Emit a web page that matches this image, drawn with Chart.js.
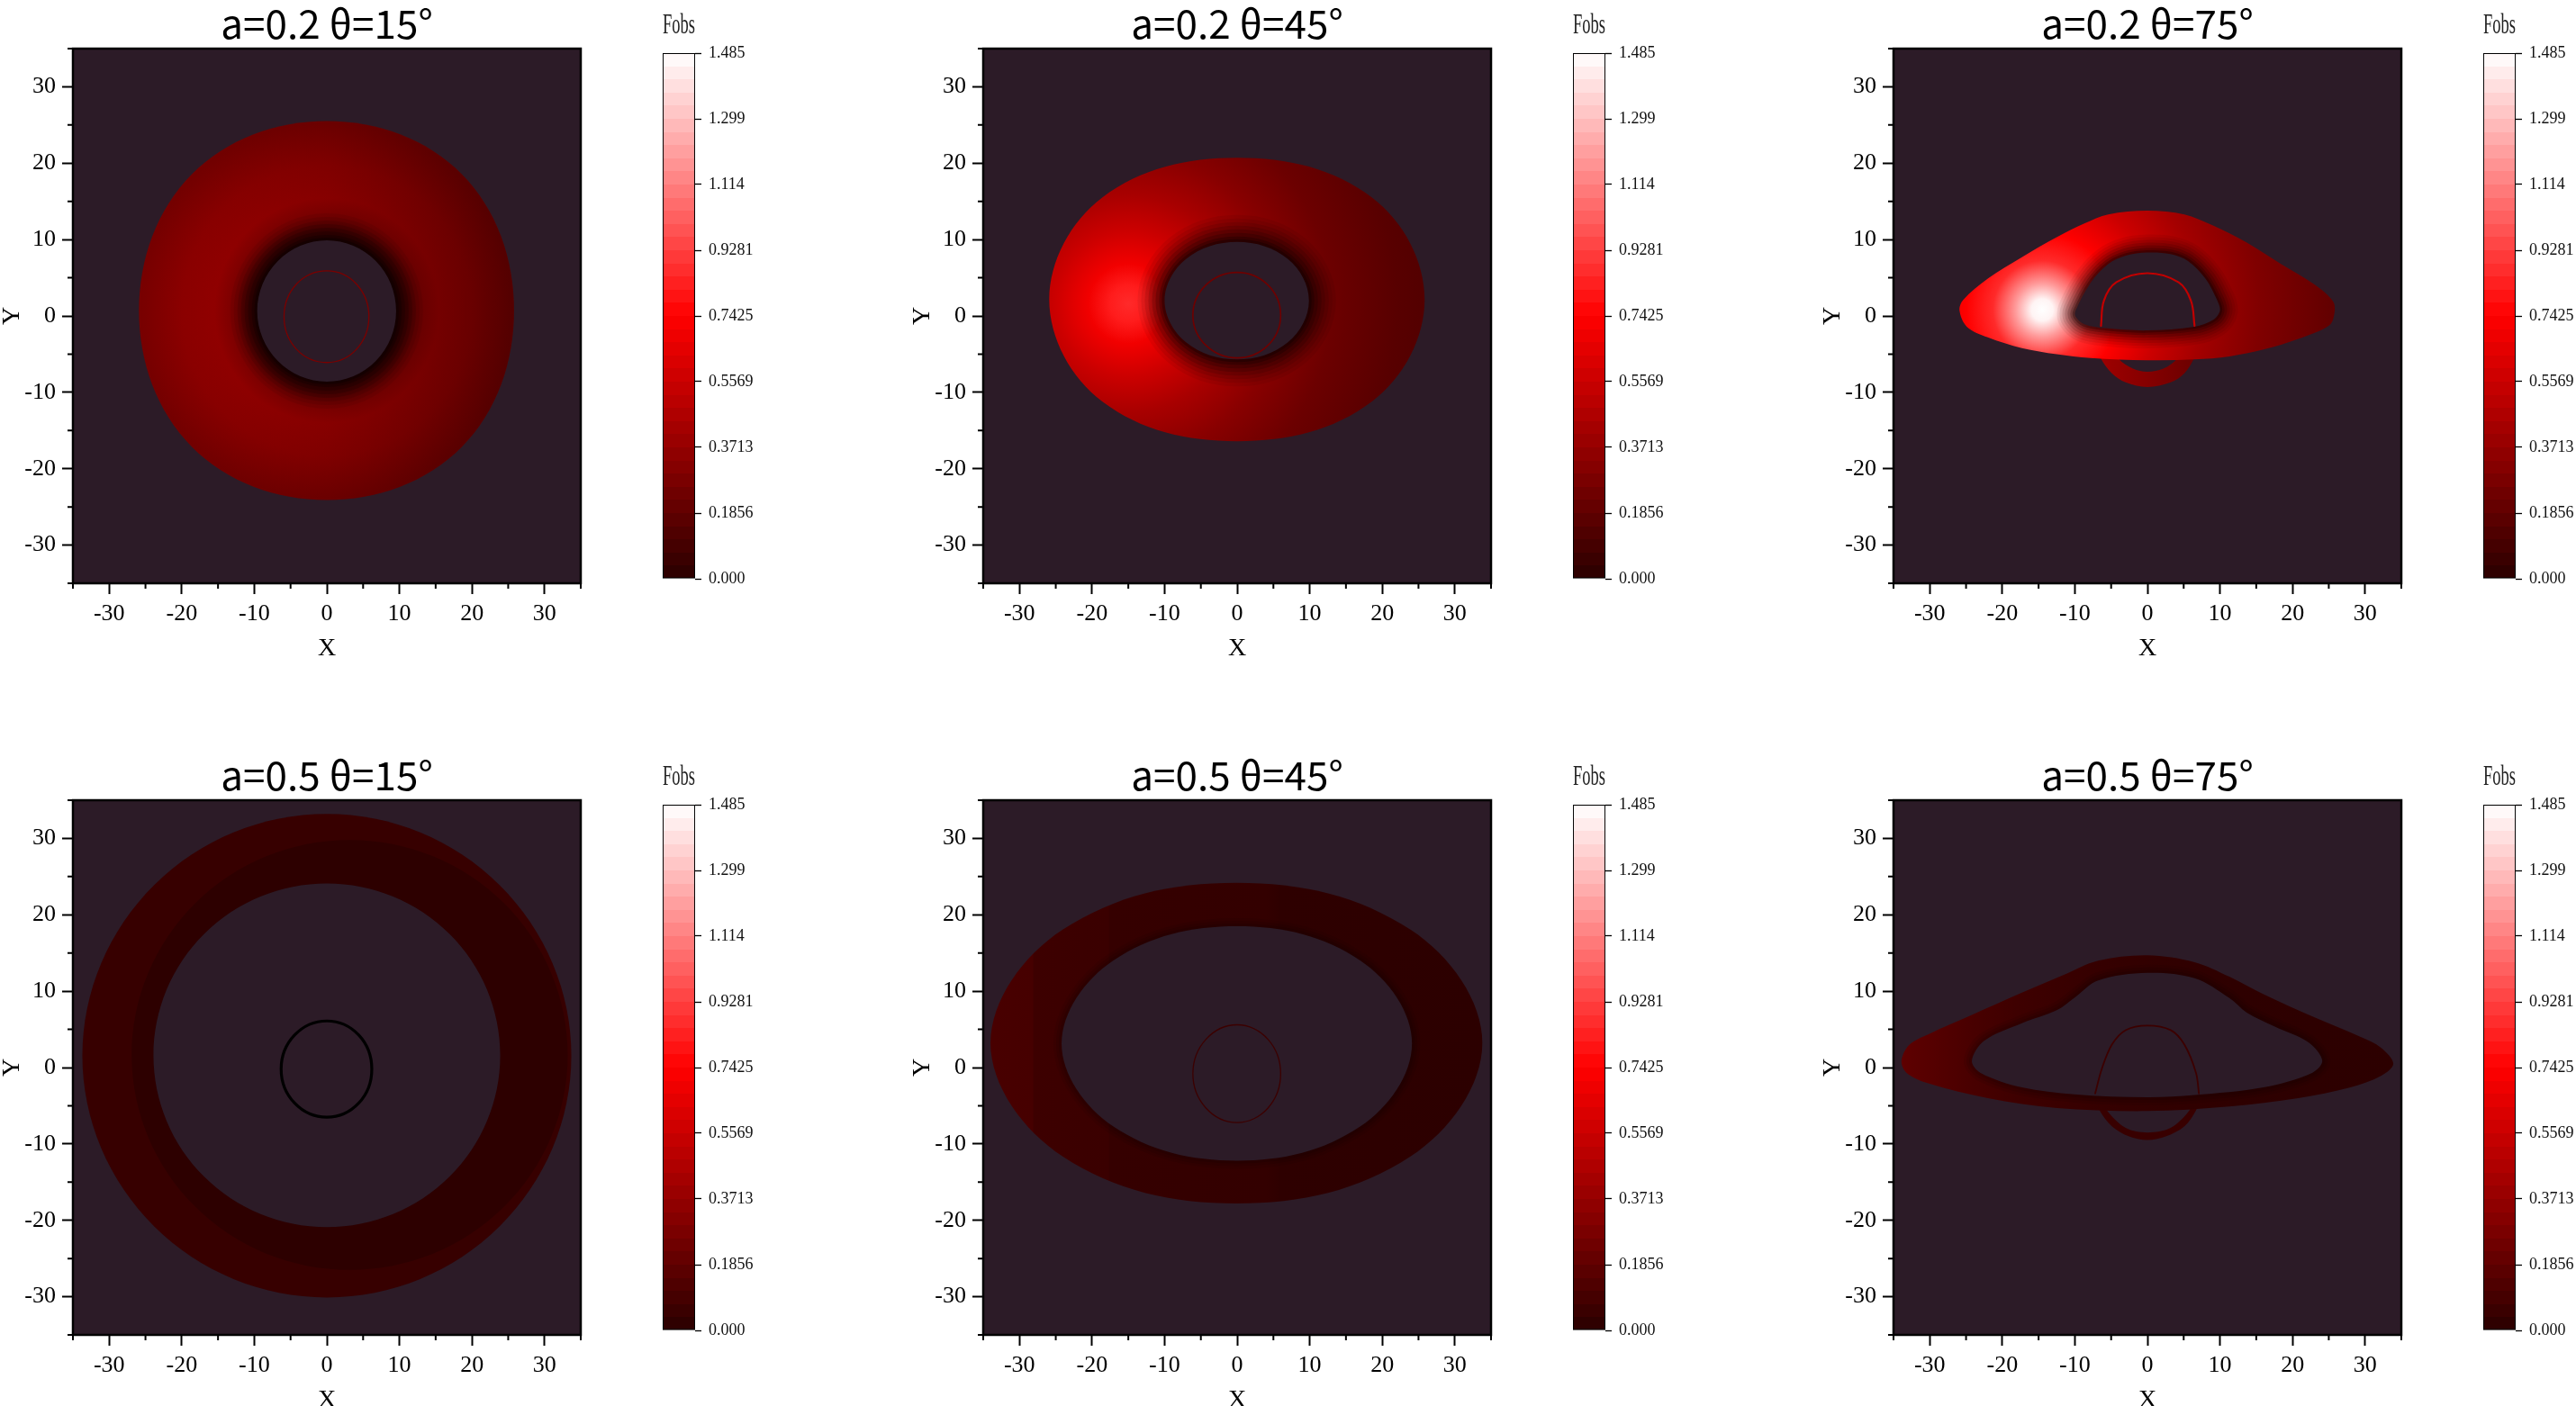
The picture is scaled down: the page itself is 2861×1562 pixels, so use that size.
<!DOCTYPE html>
<html>
<head>
<meta charset="utf-8">
<script src="https://cdn.jsdelivr.net/npm/chart.js@4.4.1/dist/chart.umd.min.js"></script>
<style>
  html, body { margin: 0; padding: 0; background: #fff; overflow: hidden; width: 2861px; height: 1562px; }
  canvas { position: absolute; }
</style>
</head>
<body>
<script>
// ---- data ----
const panelTitles = ['a=0.2 θ=15°', 'a=0.2 θ=45°', 'a=0.2 θ=75°', 'a=0.5 θ=15°', 'a=0.5 θ=45°', 'a=0.5 θ=75°'];
const xTicks = [-30, -20, -10, 0, 10, 20, 30];
const xTickLabels = ['-30', '-20', '-10', '0', '10', '20', '30'];
const yTicks = [-30, -20, -10, 0, 10, 20, 30];
const yTickLabels = ['-30', '-20', '-10', '0', '10', '20', '30'];
const minorTicks = [-35, -25, -15, -5, 5, 15, 25, 35];
const fobsRange = [0, 1.485];
const cbTicks = [0, 0.1856, 0.3713, 0.5569, 0.7425, 0.9281, 1.114, 1.299, 1.485];
const cbTickLabels = ['0.000', '0.1856', '0.3713', '0.5569', '0.7425', '0.9281', '1.114', '1.299', '1.485'];

// contours (X, Y) of each image
const p1Outer = [[25.8, 0.7], [18.6, 18.55], [0, 25.5], [-18.6, 18.55], [-25.9, 0.7], [-18.6, -17.15], [0, -24.1], [18.6, -17.15]];
const p1Hole = [[9.55, 0.65], [6.75, 7.2], [0, 9.9], [-6.75, 7.2], [-9.6, 0.65], [-6.75, -5.9], [0, -8.6], [6.75, -5.9]];
const p1Ring = [[5.8, -0.1], [4.1, 4.15], [0, 5.9], [-4.2, 4.15], [-5.9, -0.1], [-4.2, -4.35], [0, -6.1], [4.1, -4.35]];

const p2Outer = [[25.85, 2.15], [18.6, 15.5], [0, 20.7], [-18.6, 15.5], [-25.9, 2.15], [-18.6, -11.2], [0, -16.4], [18.6, -11.2]];
const p2Hole = [[9.9, 2.0], [7.0, 7.45], [0, 9.7], [-7.05, 7.45], [-10.0, 2.0], [-7.05, -3.45], [0, -5.7], [7.0, -3.45]];
const p2Ring = [[6.0, 0.1], [4.25, 4.05], [0, 5.7], [-4.3, 4.05], [-6.1, 0.1], [-4.3, -3.85], [0, -5.5], [4.25, -3.85]];

const p3Outer = [[-25.9, 0.7], [-25.4, 2.1], [-22.0, 4.9], [-17.3, 7.7], [-12.5, 10.3], [-8.7, 12.1], [-5.4, 13.3], [0, 13.8],
  [5.1, 13.3], [8.9, 11.9], [13.7, 9.6], [18.4, 6.8], [23.2, 4.0], [25.6, 1.9], [25.8, 0.5], [25.1, -1.2], [20.8, -3.0],
  [16.0, -4.4], [11.3, -5.3], [6.5, -5.7], [0, -5.8], [-7.8, -5.5], [-12.5, -5.0], [-17.3, -4.2], [-22.0, -2.8], [-24.9, -1.4]];
const p3Hole = [[-9.9, 0.7], [-7.8, 4.4], [-5.4, 6.8], [-3.0, 7.9], [0, 8.3], [3.2, 8.1], [5.6, 7.2], [8.0, 4.9], [9.6, 2.1],
  [10.0, 0.7], [9.1, -0.5], [6.5, -1.4], [0, -1.9], [-5.9, -1.6], [-8.7, -1.1], [-9.9, -0.1]];
const p3Ring = [[-6.4, -1.3], [-6.0, 2.0], [-4.3, 4.4], [0, 5.6], [4.3, 4.4], [6.0, 2.0], [6.5, -1.3]];
const p3Arc = [[-6.6, -4.5], [-6.4, -5.6], [-4.9, -7.5], [-3.0, -8.7], [0, -9.3], [3.2, -8.7], [5.1, -7.5], [6.4, -5.6], [6.6, -4.5],
  [4.3, -4.5], [4.1, -5.6], [2.2, -6.9], [0, -7.3], [-2.0, -6.9], [-4.0, -5.6], [-4.3, -4.5]];

const p4Outer = [[33.7, 1.55], [23.8, 23.9], [0, 33.2], [-23.8, 23.9], [-33.7, 1.55], [-23.8, -20.8], [0, -30.1], [23.8, -20.8]];
const p4Inner = [[33.2, 1.65], [24.4, 21.55], [3.15, 29.8], [-18.1, 21.55], [-26.9, 1.65], [-18.1, -18.25], [3.15, -26.5], [24.4, -18.25]];
const p4Hole = [[23.9, 1.6], [16.9, 17.5], [0, 24.1], [-16.9, 17.5], [-23.9, 1.6], [-16.9, -14.3], [0, -20.9], [16.9, -14.3]];
const p4Ring = [[6.2, -0.2], [4.4, 4.25], [0, 6.1], [-4.45, 4.25], [-6.3, -0.2], [-4.45, -4.65], [0, -6.5], [4.4, -4.65]];

const p5Outer = [[33.8, 3.2], [23.9, 18.05], [-0.1, 24.2], [-24.05, 18.05], [-34.0, 3.2], [-24.05, -11.65], [-0.1, -17.8], [23.9, -11.65]];
const p5Hole = [[24.1, 3.15], [17.0, 14.0], [0, 18.5], [-17.1, 14.0], [-24.2, 3.15], [-17.1, -7.7], [0, -12.2], [17.0, -7.7]];
const p5Ring = [[6.0, -0.8], [4.25, 3.7], [0, 5.6], [-4.3, 3.7], [-6.1, -0.8], [-4.3, -5.3], [0, -7.2], [4.25, -5.3]];

const p6Outer = [[-33.9, 0.9], [-32.8, 3.0], [-30.1, 4.4], [-24.4, 6.8], [-17.3, 9.8], [-11.6, 12.1], [-6.8, 14.0], [0, 14.7],
  [6.5, 13.8], [11.3, 11.9], [16.0, 9.6], [23.2, 6.5], [29.4, 4.0], [32.2, 2.6], [33.9, 0.5], [32.2, -1.1], [28.0, -2.6],
  [20.8, -4.0], [11.3, -5.1], [0, -5.7], [-12.5, -5.3], [-22.0, -4.0], [-30.1, -2.1], [-33.2, -0.7]];
const p6Hole = [[-24.2, 0.9], [-22.5, 3.5], [-17.3, 5.8], [-12.5, 7.5], [-10.1, 9.1], [-6.8, 11.4], [0, 12.4], [6.5, 11.7],
  [11.3, 9.1], [13.7, 7.2], [17.5, 5.4], [22.2, 3.3], [24.1, 0.9], [22.7, -0.7], [16.0, -2.6], [6.5, -3.6], [0, -3.9],
  [-10.1, -3.5], [-17.3, -2.6], [-23.0, -0.7]];
const p6Ring = [[-7.2, -3.4], [-6.3, -0.2], [-4.9, 3.0], [-3.0, 4.9], [0, 5.5], [3.2, 4.9], [5.1, 3.0], [6.7, -0.7], [7.1, -3.4]];
const p6Arc = [[-6.9, -4.5], [-6.6, -5.6], [-4.9, -7.7], [-2.6, -9.0], [0, -9.5], [2.6, -9.0], [5.1, -7.7], [6.7, -5.6], [6.9, -4.5],
  [5.9, -4.5], [5.8, -5.6], [3.2, -7.9], [0, -8.5], [-3.0, -7.9], [-5.6, -5.6], [-5.9, -4.5]];

// ---- look ----
const W = 660, H = 760, COL = 1011, ROW = 835;
const BG = '#2c1b27';
const SERIF = "'Liberation Serif', 'DejaVu Serif', serif";
const SANS = "'Noto Sans CJK SC', 'Noto Sans', sans-serif";
const ROUND = 0.375;   // tension for the 8-point ovals
const FREE = 0.33;     // tension for the traced outlines
const BANDS = 40;

function cmap(t) {
  if (t < 0.5) return `rgb(${Math.round(42 + 213 * t * 2)},0,0)`;
  const w = Math.round(510 * (t - 0.5));
  return `rgb(255,${w},${w})`;
}

function pts(a) {
  return a.map(([x, y]) => ({x, y}));
}
function tensionFor(a) {
  return a.length <= 8 ? ROUND : FREE;
}
function fillSet(a, color) {
  return {data: pts(a), closed: true, showLine: true, fill: 'shape', backgroundColor: color,
    borderWidth: 0, pointRadius: 0, tension: tensionFor(a)};
}
function lineSet(a, color, width, closed) {
  return {data: pts(a), closed, showLine: true, fill: false, borderColor: color, borderWidth: width,
    pointRadius: 0, tension: tensionFor(a), borderJoinStyle: 'round', borderCapStyle: 'round'};
}

// radial gradient, centre and radii in data units
function radial(cx, cy, stops) {
  return c => {
    const ch = c.chart;
    if (!ch.chartArea) return 'transparent';
    const xs = ch.scales.x, ys = ch.scales.y;
    const px = xs.getPixelForValue(cx), py = ys.getPixelForValue(cy);
    const rMax = stops[stops.length - 1][0];
    const rPx = Math.abs(xs.getPixelForValue(cx + rMax) - px);
    const g = ch.ctx.createRadialGradient(px, py, 0, px, py, rPx);
    stops.forEach(([r, col]) => g.addColorStop(r / rMax, col));
    return g;
  };
}
function linearX(stops) {
  return c => {
    const ch = c.chart;
    if (!ch.chartArea) return 'transparent';
    const xs = ch.scales.x;
    const x0 = xs.getPixelForValue(stops[0][0]), x1 = xs.getPixelForValue(stops[stops.length - 1][0]);
    const g = ch.ctx.createLinearGradient(x0, 0, x1, 0);
    stops.forEach(([v, col]) => g.addColorStop((xs.getPixelForValue(v) - x0) / (x1 - x0), col));
    return g;
  };
}

// soft dark rim just outside each hole, built from stacked strokes
const shadowTop = [[60, 0.06], [52, 0.08], [44, 0.1], [36, 0.13], [28, 0.16], [20, 0.2], [12, 0.25], [6, 0.3]];
const shadowSlim = [[40, 0.06], [34, 0.08], [28, 0.1], [22, 0.13], [16, 0.17], [10, 0.22], [5, 0.3]];
const shadowBottom = [[18, 0.08], [12, 0.1], [6, 0.12]];

function panelSets(i) {
  const s = [];
  const shadows = (hole, list) => list.forEach(([w, a]) => s.push(lineSet(hole, `rgba(8,0,0,${a})`, w, true)));
  if (i === 0) {
    s.push(fillSet(p1Outer, radial(0, 0.7, [[0, '#3a0000'], [9.6, '#4a0000'], [12.4, '#7e0000'], [15.5, '#960000'], [20, '#8e0000'], [23.5, '#800000'], [26, '#760000']])));
    s.push(fillSet(p1Outer, linearX([[-26, 'rgba(20,0,0,0)'], [0, 'rgba(20,0,0,0.12)'], [26, 'rgba(20,0,0,0.36)']])));
    shadows(p1Hole, shadowTop);
    s.push(fillSet(p1Hole, BG));
    s.push(lineSet(p1Ring, '#7a0000', 1.3, true));
  } else if (i === 1) {
    s.push(fillSet(p2Outer, radial(-15, 1.6, [[0, '#ff2a2a'], [2.5, '#ff1c1c'], [5.5, '#f20000'], [10, '#cc0000'], [15, '#a80000'], [21, '#880000'], [28, '#6c0000'], [37, '#580000'], [50, '#480000']])));
    shadows(p2Hole, shadowTop);
    s.push(fillSet(p2Hole, BG));
    s.push(lineSet(p2Ring, '#6e0000', 1.6, true));
  } else if (i === 2) {
    s.push(fillSet(p3Arc, linearX([[-7, '#a00000'], [7, '#6a0000']])));
    s.push(fillSet(p3Outer, radial(-14.5, 0.8, [[0, '#ffffff'], [1.5, '#fff4f4'], [3.7, '#ff9a9a'], [6.8, '#ff2a2a'], [10.5, '#ff0000'], [16, '#cc0000'], [22, '#a40000'], [30, '#800000'], [40, '#620000'], [52, '#4c0000']])));
    shadows(p3Hole, shadowSlim);
    s.push(fillSet(p3Hole, BG));
    s.push(lineSet(p3Ring, '#c00000', 2.2, false));
  } else if (i === 3) {
    s.push(fillSet(p4Outer, '#370000'));
    s.push(fillSet(p4Inner, '#2d0000'));
    s.push(fillSet(p4Hole, BG));
    s.push(lineSet(p4Ring, '#000000', 3.2, true));
  } else if (i === 4) {
    s.push(fillSet(p5Outer, linearX([[-34, '#480000'], [-28.2, '#460000'], [-28, '#3d0000'], [-17.8, '#3a0000'], [-17.5, '#350000'], [4, '#330000'], [6, '#2e0000'], [34, '#2c0000']])));
    shadows(p5Hole, shadowBottom);
    s.push(fillSet(p5Hole, BG));
    s.push(lineSet(p5Ring, '#3c0000', 1.3, true));
  } else {
    s.push(fillSet(p6Arc, '#380000'));
    s.push(fillSet(p6Outer, linearX([[-34, '#5e0000'], [-30, '#560000'], [-24, '#480000'], [-18, '#3e0000'], [-8, '#360000'], [2, '#310000'], [12, '#2e0000'], [34, '#2c0000']])));
    shadows(p6Hole, shadowBottom);
    s.push(fillSet(p6Hole, BG));
    s.push(lineSet(p6Ring, '#3c0000', 1.8, false));
  }
  // first pushed is drawn first (bottom)
  s.forEach((d, k) => { d.order = s.length - k; });
  return s;
}

// make the closed outlines true loops so the spline runs smoothly through the join
const closeLoops = {
  id: 'closeLoops',
  afterDatasetsUpdate(chart) {
    chart.data.datasets.forEach((d, k) => {
      if (!d.closed) return;
      const line = chart.getDatasetMeta(k).dataset;
      line._loop = true;
      line._fullLoop = true;
      delete line._segments;
      delete line._path;
      line._pointsUpdated = false;
    });
  }
};

const plotFrame = {
  id: 'plotFrame',
  beforeDatasetsDraw(chart) {
    const {ctx, chartArea: a} = chart;
    ctx.save();
    ctx.fillStyle = BG;
    ctx.fillRect(a.left, a.top, a.right - a.left, a.bottom - a.top);
    ctx.restore();
  },
  afterDraw(chart) {
    const {ctx, chartArea: a, scales: {x, y}} = chart;
    ctx.save();
    ctx.strokeStyle = '#000';
    ctx.lineWidth = 2;
    ctx.beginPath();
    minorTicks.forEach(v => {
      const px = x.getPixelForValue(v);
      ctx.moveTo(px, a.bottom);
      ctx.lineTo(px, a.bottom + 6);
      const py = y.getPixelForValue(v);
      ctx.moveTo(a.left, py);
      ctx.lineTo(a.left - 6, py);
    });
    ctx.stroke();
    ctx.lineWidth = 2.5;
    ctx.strokeRect(a.left, a.top, a.right - a.left, a.bottom - a.top);
    ctx.restore();
  }
};

function axis(isX) {
  return {
    type: 'linear', position: isX ? 'bottom' : 'left', min: -35, max: 35,
    afterBuildTicks: s => { s.ticks = (isX ? xTicks : yTicks).map(v => ({value: v})); },
    afterFit: s => { if (isX) s.height = H - 648; else s.width = 81; },
    grid: {drawOnChartArea: false, drawTicks: true, tickLength: 12, tickWidth: 2, tickColor: '#000'},
    border: {display: false},
    ticks: {callback: (v, k) => (isX ? xTickLabels : yTickLabels)[k], color: '#000',
      font: {family: SERIF, size: 26}, padding: 7, maxRotation: 0, autoSkip: false},
    title: {display: true, text: isX ? 'X' : 'Y', color: '#000',
      font: {family: SERIF, size: 28, lineHeight: isX ? 1.2 : 1},
      padding: isX ? {top: 0, bottom: 23} : {top: 0, bottom: 0}}
  };
}

function addCanvas(left, top, w, h) {
  const cv = document.createElement('canvas');
  cv.width = w; cv.height = h;
  cv.style.left = left + 'px'; cv.style.top = top + 'px';
  cv.style.width = w + 'px'; cv.style.height = h + 'px';
  document.body.appendChild(cv);
  return cv;
}

function makePanel(i) {
  const col = i % 3, row = Math.floor(i / 3);
  const cv = addCanvas(col * COL, row * ROW, W, H);
  new Chart(cv, {
    type: 'scatter',
    data: {datasets: panelSets(i)},
    options: {
      responsive: false, animation: false, events: [],
      layout: {padding: {left: 0, right: 15, top: 0, bottom: 0}},
      plugins: {
        legend: {display: false}, tooltip: {enabled: false},
        title: {display: true, text: panelTitles[i], fullSize: false, color: '#000',
          font: {family: SANS, size: 44, weight: 'normal', lineHeight: 1.2}, padding: {top: 0, bottom: 1.2}}
      },
      scales: {x: axis(true), y: axis(false)}
    },
    plugins: [closeLoops, plotFrame]
  });
}

function bandFill(chart) {
  const a = chart.chartArea;
  if (!a) return '#f00';
  const g = chart.ctx.createLinearGradient(0, a.bottom, 0, a.top);
  for (let k = 0; k < BANDS; k++) {
    const col = cmap((k + 0.5) / BANDS);
    g.addColorStop(k / BANDS, col);
    g.addColorStop((k + 1) / BANDS, col);
  }
  return g;
}

function makeColorbar(i) {
  const col = i % 3, row = Math.floor(i / 3);
  const cv = addCanvas(col * COL + 700, row * ROW, 161, 700);
  new Chart(cv, {
    type: 'bar',
    data: {
      labels: ['Fobs'],
      datasets: [{data: [fobsRange], backgroundColor: c => bandFill(c.chart), borderColor: '#000',
        borderWidth: 1.3, borderSkipped: false, barPercentage: 1, categoryPercentage: 1}]
    },
    options: {
      responsive: false, animation: false, events: [],
      layout: {padding: {left: 36, right: 0, top: 0, bottom: 57}},
      plugins: {
        legend: {display: false}, tooltip: {enabled: false},
        title: {display: true, text: 'Fobs', fullSize: false, color: '#222',
          font: {family: SERIF, size: 31, weight: 'normal', lineHeight: 1.2}, padding: {top: 10, bottom: 11.8}}
      },
      scales: {
        x: {display: false},
        y: {
          position: 'right', min: fobsRange[0], max: fobsRange[1],
          afterBuildTicks: s => { s.ticks = cbTicks.map(v => ({value: v})); },
          afterFit: s => { s.width = 89; },
          grid: {drawOnChartArea: false, drawTicks: true, tickLength: 7, tickWidth: 1.3, tickColor: '#000'},
          border: {display: false},
          ticks: {callback: (v, k) => cbTickLabels[k], color: '#111', font: {family: SERIF, size: 18}, padding: 8, autoSkip: false}
        }
      }
    }
  });
}

for (let i = 0; i < 6; i++) {
  makePanel(i);
  makeColorbar(i);
}
</script>
</body>
</html>
